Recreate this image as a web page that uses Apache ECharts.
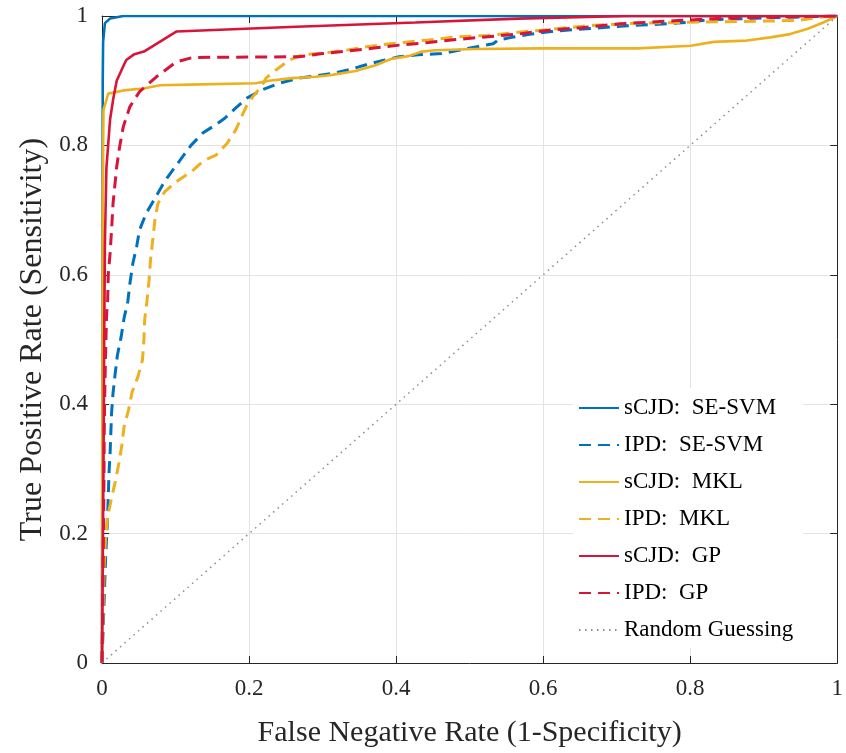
<!DOCTYPE html>
<html lang="en">
<head>
  <meta charset="UTF-8">
  <title>ROC</title>
  <style>body{margin:0;background:#fff}</style>
</head>
<body>
  <div id="main" style="width: 846px;height:753px;"></div>

  <script src="https://cdn.jsdelivr.net/npm/echarts@6/dist/echarts.min.js"></script>
  <script>
    // [fpr, tpr] pairs
    const sCJD_SVM = [[0,0],[0.0004,0.4],[0.0008,0.75],[0.001,0.9],[0.0015,0.96],[0.004,0.989],[0.011,0.996],[0.029,1],[1,1]];
    const IPD_SVM = [[0,0],[0.001,0.035],[0.002,0.066],[0.003,0.10],[0.004,0.133],[0.005,0.164],[0.0063,0.195],[0.0077,0.229],[0.0086,0.26],
      [0.0095,0.293],[0.011,0.324],[0.012,0.355],[0.013,0.386],[0.015,0.417],[0.018,0.448],[0.021,0.476],[0.026,0.504],[0.030,0.533],
      [0.035,0.558],[0.038,0.587],[0.042,0.618],[0.047,0.643],[0.051,0.669],[0.060,0.695],[0.072,0.718],[0.085,0.744],[0.106,0.777],
      [0.121,0.80],[0.137,0.819],[0.152,0.83],[0.167,0.842],[0.182,0.858],[0.197,0.873],[0.218,0.886],[0.241,0.896],[0.268,0.904],
      [0.313,0.911],[0.336,0.917],[0.363,0.926],[0.385,0.932],[0.404,0.937],[0.43,0.94],[0.462,0.942],[0.485,0.947],[0.512,0.953],
      [0.532,0.957],[0.539,0.963],[0.557,0.967],[0.584,0.972],[0.611,0.976],[0.643,0.979],[0.67,0.981],[0.715,0.985],[0.769,0.988],
      [0.796,0.990],[0.823,0.994],[0.9,0.997],[1,1]];
    const sCJD_MKL = [[0,0],[0.0004,0.3],[0.0008,0.6],[0.001,0.716],[0.002,0.855],[0.0085,0.88],[0.029,0.885],[0.056,0.888],[0.079,0.893],
      [0.119,0.894],[0.209,0.896],[0.227,0.9],[0.259,0.904],[0.291,0.906],[0.313,0.909],[0.345,0.915],[0.372,0.924],[0.394,0.934],
      [0.417,0.938],[0.435,0.945],[0.453,0.947],[0.507,0.949],[0.598,0.95],[0.728,0.95],[0.801,0.954],[0.832,0.96],[0.877,0.962],
      [0.909,0.967],[0.936,0.972],[0.959,0.98],[0.981,0.99],[1,1]];
    const IPD_MKL = [[0,0],[0.001,0.05],[0.003,0.15],[0.005,0.195],[0.0077,0.226],[0.013,0.255],[0.018,0.28],[0.023,0.309],[0.027,0.337],
      [0.030,0.365],[0.036,0.391],[0.041,0.419],[0.049,0.443],[0.055,0.468],[0.057,0.499],[0.058,0.53],[0.061,0.558],[0.064,0.592],
      [0.066,0.623],[0.069,0.654],[0.072,0.685],[0.076,0.71],[0.085,0.728],[0.101,0.744],[0.121,0.759],[0.139,0.777],[0.155,0.785],
      [0.170,0.803],[0.182,0.824],[0.190,0.845],[0.197,0.862],[0.205,0.875],[0.218,0.893],[0.223,0.904],[0.237,0.917],[0.255,0.932],
      [0.273,0.94],[0.304,0.943],[0.331,0.947],[0.363,0.953],[0.399,0.958],[0.444,0.963],[0.485,0.968],[0.525,0.97],[0.566,0.975],
      [0.607,0.979],[0.661,0.985],[0.728,0.989],[0.783,0.99],[0.837,0.991],[0.891,0.992],[0.945,0.993],[0.981,0.999],[1,1]];
    const sCJD_GP = [[0,0],[0.001,0.15],[0.002,0.3],[0.003,0.5],[0.004,0.65],[0.006,0.765],[0.011,0.84],[0.015,0.87],[0.02,0.9],
      [0.028,0.92],[0.033,0.932],[0.044,0.941],[0.057,0.945],[0.101,0.976],[0.255,0.983],[0.426,0.99],[0.566,0.996],[0.715,1],[1,1]];
    const IPD_GP = [[0,0],[0.001,0.1],[0.0027,0.283],[0.003,0.355],[0.004,0.433],[0.005,0.484],[0.0063,0.54],[0.0077,0.561],[0.0086,0.602],
      [0.011,0.633],[0.013,0.669],[0.015,0.71],[0.02,0.767],[0.024,0.798],[0.029,0.829],[0.038,0.86],[0.051,0.883],[0.074,0.906],
      [0.101,0.929],[0.124,0.936],[0.268,0.937],[0.30,0.942],[0.336,0.946],[0.367,0.95],[0.404,0.955],[0.444,0.959],[0.485,0.964],
      [0.525,0.968],[0.566,0.972],[0.607,0.978],[0.652,0.982],[0.706,0.988],[0.783,0.993],[0.837,0.996],[0.891,0.998],[0.945,0.999],[1,1]];
    const randomGuess = [[0,0],[1,1]];

    const names = ['sCJD:\u2002SE-SVM', 'IPD:\u2002SE-SVM', 'sCJD:\u2002MKL', 'IPD:\u2002MKL', 'sCJD:\u2002GP', 'IPD:\u2002GP', 'Random Guessing'];

    const blue = '#0072BD', yellow = '#EDB120', red = '#D7153A';
    const font = "'Liberation Serif', 'Times New Roman', serif";
    const dash = [12, 7];

    const myChart = echarts.init(document.getElementById('main'));

    function line(name, data, color, type, width) {
      return {
        name: name,
        type: 'line',
        data: data,
        symbol: 'none',
        xAxisIndex: 0,
        yAxisIndex: 0,
        lineStyle: { color: color, width: width || 2.6, type: type || 'solid' },
        itemStyle: { color: color }
      };
    }

    const axisBase = {
      type: 'value',
      min: 0,
      max: 1,
      interval: 0.2,
      axisLine: { show: true, onZero: false, lineStyle: { color: '#262626', width: 1 } },
      axisTick: { show: true, inside: true, length: 7, lineStyle: { color: '#262626', width: 1 } },
    };

    const options = {
      animation: false,
      backgroundColor: '#fff',
      grid: { left: 102, right: 6, top: 16, bottom: 90 },
      legend: {
        orient: 'vertical',
        left: 573,
        top: 388,
        padding: [8, 10, 6, 5],
        backgroundColor: '#fff',
        itemWidth: 40,
        itemHeight: 14,
        itemGap: 13,
        selectedMode: false,
        itemStyle: { opacity: 0 },
        textStyle: { fontFamily: font, fontSize: 23, color: '#000', lineHeight: 24 },
        data: names
      },
      xAxis: [
        Object.assign({}, axisBase, {
          position: 'bottom',
          name: 'False Negative Rate (1-Specificity)',
          nameLocation: 'middle',
          nameGap: 55,
          nameTextStyle: { fontFamily: font, fontSize: 30, color: '#262626' },
          axisLabel: { fontFamily: font, fontSize: 23, color: '#262626', margin: 14 },
          splitLine: { show: true, lineStyle: { color: '#e3e3e3', width: 1 } }
        }),
        Object.assign({}, axisBase, {
          position: 'top',
          axisLabel: { show: false },
          splitLine: { show: false }
        })
      ],
      yAxis: [
        Object.assign({}, axisBase, {
          position: 'left',
          name: 'True Positive Rate (Sensitivity)',
          nameLocation: 'middle',
          nameGap: 53,
          nameTextStyle: { fontFamily: font, fontSize: 32, color: '#262626' },
          axisLabel: { fontFamily: font, fontSize: 23, color: '#262626', margin: 14 },
          splitLine: { show: true, lineStyle: { color: '#e3e3e3', width: 1 } }
        }),
        Object.assign({}, axisBase, {
          position: 'right',
          axisLabel: { show: false },
          splitLine: { show: false }
        })
      ],
      series: [
        line(names[0], sCJD_SVM, blue),
        line(names[1], IPD_SVM, blue, dash, 3),
        line(names[2], sCJD_MKL, yellow),
        line(names[3], IPD_MKL, yellow, dash, 3),
        line(names[4], sCJD_GP, red),
        line(names[5], IPD_GP, red, dash, 3),
        line(names[6], randomGuess, '#8c8c8c', [1.5, 4.5], 1.5)
      ]
    };

    myChart.setOption(options);
  </script>
</body>
</html>
